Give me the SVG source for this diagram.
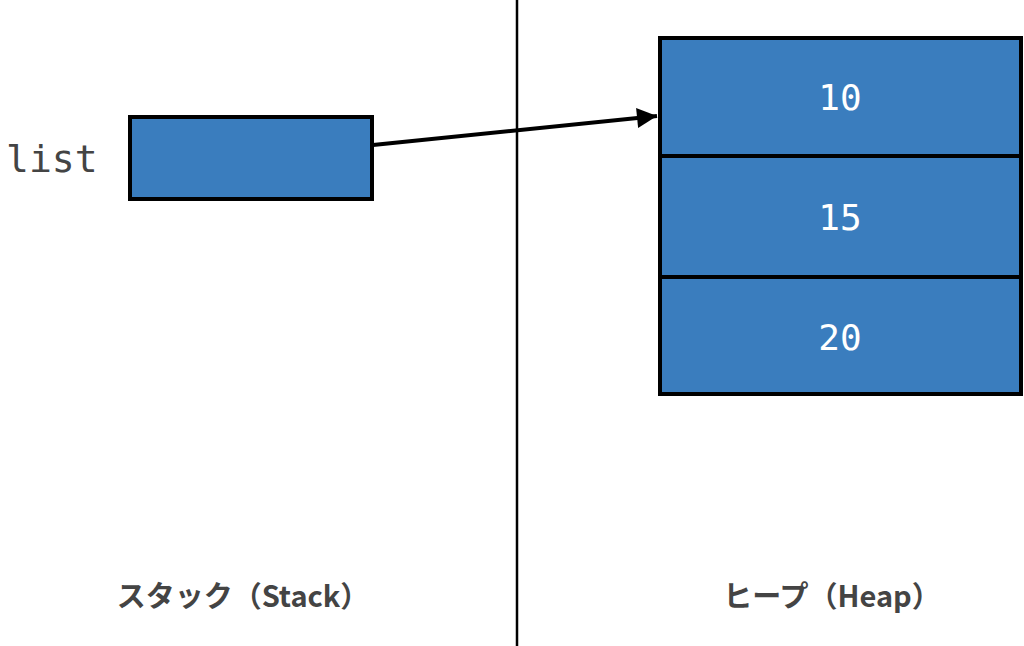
<svg xmlns="http://www.w3.org/2000/svg" width="1024" height="646" viewBox="0 0 1024 646">
<style>
.cell{fill:#3A7DBE;stroke:#000;stroke-width:4}
.num{font-family:"DejaVu Sans Mono",monospace;font-size:36px;fill:#fff;text-anchor:middle}
.lbl{font-family:"Noto Sans CJK JP",sans-serif;font-weight:bold;font-size:29px;fill:#444;text-anchor:middle}
</style>
<defs>
<marker id="ah" viewBox="0 0 10 10" refX="10" refY="5" markerWidth="5.5" markerHeight="5" orient="auto" markerUnits="strokeWidth">
<path d="M0,0 L10,5 L0,10 z" fill="#000"/>
</marker>
</defs>
<rect width="1024" height="646" fill="#fff"/>
<line x1="517" y1="0" x2="517" y2="646" stroke="#000" stroke-width="2.5"/>
<g id="stack-var">
<text x="6" y="172" font-family="DejaVu Sans Mono,monospace" font-size="38" fill="#444">list</text>
<rect class="cell" x="130" y="117" width="242" height="82"/>
</g>
<g id="heap">
<rect class="cell" x="660" y="38" width="361" height="118"/>
<rect class="cell" x="660" y="156" width="361" height="121"/>
<rect class="cell" x="660" y="277" width="361" height="117"/>
<text class="num" x="840" y="110">10</text>
<text class="num" x="840" y="230">15</text>
<text class="num" x="840" y="350">20</text>
</g>
<g id="connectors">
<line x1="373" y1="145" x2="657" y2="116" stroke="#000" stroke-width="4" marker-end="url(#ah)"/>
</g>
<g id="labels">
<text class="lbl" x="243" y="607">スタック（Stack）</text>
<text class="lbl" x="832" y="607">ヒープ（Heap）</text>
</g>
</svg>
